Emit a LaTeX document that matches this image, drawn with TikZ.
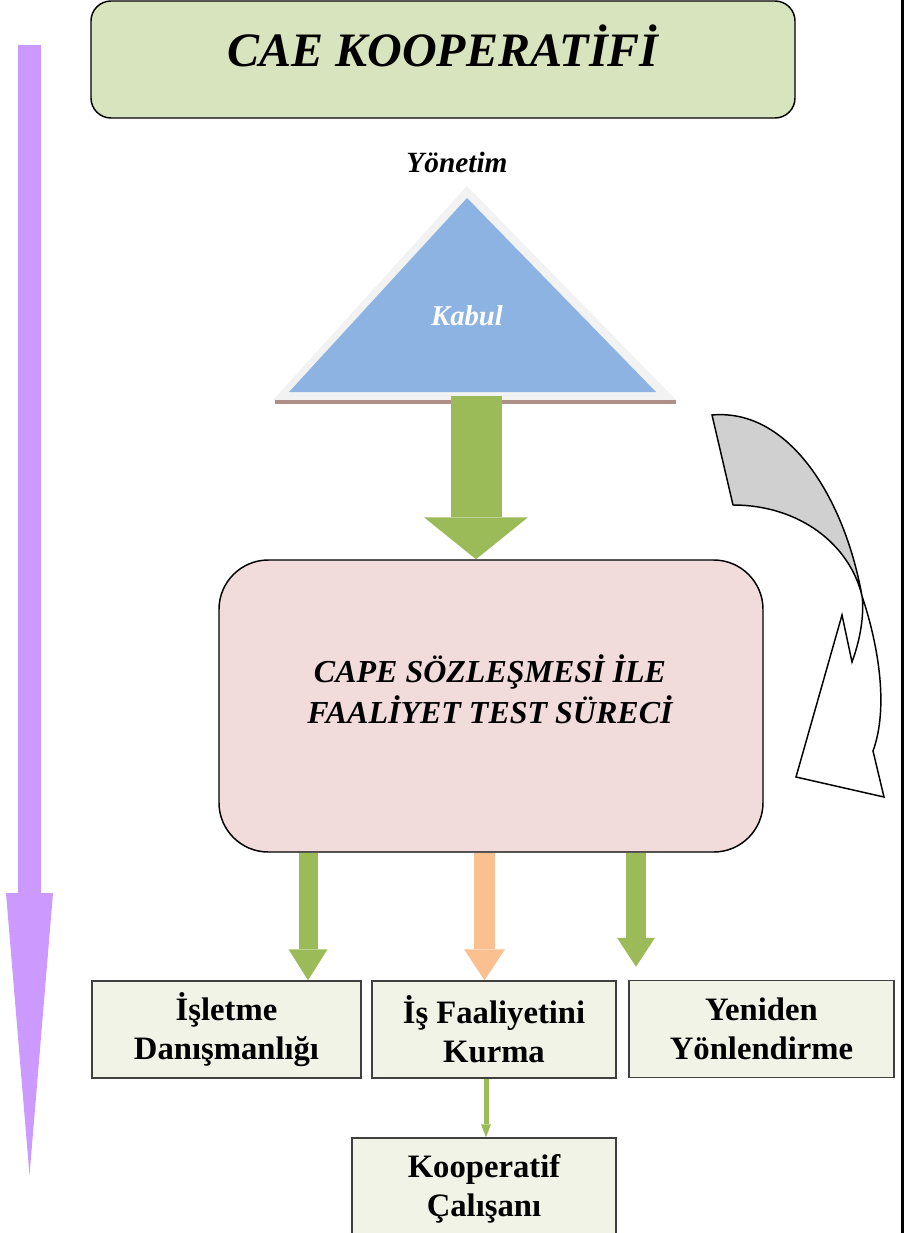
\documentclass[tikz,border=0pt]{standalone}
\usepackage{fontspec}
\setmainfont{Liberation Serif}
\usetikzlibrary{arrows.meta,calc}
\definecolor{titlegreen}{HTML}{D7E4BD}
\definecolor{capepink}{HTML}{F2DCDB}
\definecolor{boxfill}{HTML}{F0F3E6}
\definecolor{boxline}{HTML}{3F3F3F}
\definecolor{arrgreen}{HTML}{9BBB59}
\definecolor{arrorange}{HTML}{FAC090}
\definecolor{arrpurple}{HTML}{CC99FF}
\definecolor{triblue}{HTML}{8DB3E2}
\definecolor{triedge}{HTML}{F2F2F2}
\definecolor{tribrown}{HTML}{AE8F88}
\definecolor{curvegray}{HTML}{D0D0D0}
\tikzset{
  titlebox/.style={draw, line width=1.1pt, fill=titlegreen, rounded corners=15pt,
    minimum width=528pt, minimum height=87.75pt, inner sep=0pt},
  capebox/.style={draw, line width=1.1pt, fill=capepink, rounded corners=37pt,
    minimum width=408pt, minimum height=219pt, inner sep=0pt},
  bibox/.style={draw=boxline, line width=1.1pt, fill=boxfill, inner sep=0pt,
    minimum height=72.75pt, align=center, font=\fontsize{24.5}{29}\selectfont\bfseries},
  bi/.style={font=\fontsize{#1}{#1}\selectfont\bfseries\itshape, inner sep=0pt, align=center},
  blockarr/.style n args={4}{draw=#1, line width=#2,
    -{Triangle[width=#3, length=#4, line width=0pt]}},
  curveshape/.style={draw, line width=1.1pt, line join=miter}
}
\begin{document}
\begin{tikzpicture}[x=0.75pt,y=-0.75pt]
\useasboundingbox (0,0) rectangle (904,1233);
\draw[line width=1.9pt] (902.7,0) -- (902.7,1233);

\coordinate (ptop) at (29.5,45);
\coordinate (pbot) at (29.5,1175);
\draw[blockarr={arrpurple}{17.25pt}{35.25pt}{211.5pt}] (ptop) -- (pbot);

\node[titlebox] (title) at (443,59.5) {};
\node[bi=36] (titletxt) at (443,46) {CAE KOOPERATİFİ};

\node[bi=22] (yonetim) at (457,162) {Yönetim};
\fill[triedge] (467,186) -- (273,400) -- (676,400) -- cycle;
\fill[triblue] (467,198) -- (289,392) -- (656,392) -- cycle;
\fill[tribrown] (275,399.5) rectangle (676,404);
\node[bi=21.5, text=white] (kabul) at (467,316) {Kabul};
\coordinate (tribase) at (476,396);

\node[capebox] (cape) at (491,706) {};
\node[bi=24, font=\fontsize{24}{30.75}\selectfont\bfseries\itshape] (capetxt) at (490,689)
  {CAPE SÖZLEŞMESİ İLE\\FAALİYET TEST SÜRECİ};
\draw[blockarr={arrgreen}{38.25pt}{78pt}{31.5pt}] (tribase) -- (tribase |- cape.north);

\filldraw[curveshape, fill=curvegray] (712,415) .. controls (790,408) and (845,500) .. (862,596)
  .. controls (850,545) and (800,505) .. (733,505) -- cycle;
\filldraw[curveshape, fill=white] (862,596) .. controls (880,650) and (888,710) .. (873,751)
  -- (884,797) -- (796,777) -- (842,615) -- (852,662)
  .. controls (862,635) and (864,610) .. (862,596) -- cycle;

\node[bibox, minimum width=201.75pt] (isl) at (226.5,1029.5) {İşletme\\Danışmanlığı};
\node[bibox, minimum width=183pt] (kur) at (494,1029.5) {İş Faaliyetini\\Kurma};
\node[bibox, minimum width=198.75pt] (yen) at (761.5,1029) {Yeniden\\Yönlendirme};
\node[bibox, minimum width=198pt, minimum height=76.5pt] (koop) at (484,1189) {Kooperatif\\Çalışanı};

\coordinate (g1) at ($(cape.south)+(-183,0)$);
\coordinate (g2) at ($(cape.south)+(-6.5,0)$);
\coordinate (g3) at ($(cape.south)+(145,0)$);
\draw[blockarr={arrgreen}{14.25pt}{29.25pt}{23.25pt}] (g1) -- (g1 |- isl.north);
\draw[blockarr={arrorange}{15.75pt}{30.75pt}{23.25pt}] (g2) -- (g2 |- kur.north);
\draw[blockarr={arrgreen}{15pt}{28.5pt}{21.75pt}, shorten >=9.75pt] (g3) -- (g3 |- yen.north);

\coordinate (k1) at ($(kur.south)+(-8,0)$);
\draw[blockarr={arrgreen}{3.75pt}{7.5pt}{9.75pt}] (k1) -- (k1 |- koop.north);
\end{tikzpicture}
\end{document}
